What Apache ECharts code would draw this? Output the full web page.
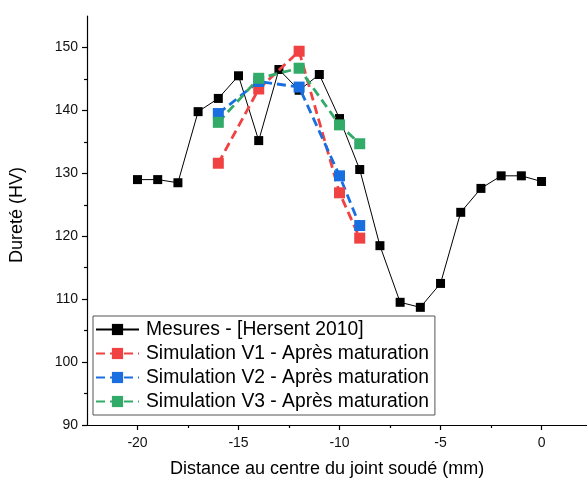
<!DOCTYPE html>
<html><head><meta charset="utf-8">
<script src="https://cdn.jsdelivr.net/npm/echarts@6/dist/echarts.min.js"></script>
<style>html,body{margin:0;padding:0;background:#fff}#c{width:587px;height:483px}</style>
</head><body><div id="c"></div>
<script>
const mesuresX = [-20,-19,-18,-17,-16,-15,-14,-13,-12,-11,-10,-9,-8,-7,-6,-5,-4,-3,-2,-1,0];
const mesuresY = [129.0,129.0,128.5,139.8,141.9,145.5,135.2,146.5,143.2,145.7,138.7,130.6,118.5,109.5,108.7,112.5,123.8,127.6,129.6,129.6,128.7];
const simX = [-16,-14,-12,-10,-9];
const v1Y = [131.6,143.4,149.4,126.9,119.7];
const v2Y = [139.5,144.6,143.7,129.6,121.7];
const v3Y = [138.1,145.1,146.7,137.7,134.7];
const xMajorTicks = [-20,-15,-10,-5,0];
const xMinorTicks = [-17.5,-12.5,-7.5,-2.5];
const yMajorTicks = [90,100,110,120,130,140,150];
const yMinorTicks = [95,105,115,125,135,145];
const seriesNames = ['Mesures - [Hersent 2010]','Simulation V1 - Après maturation','Simulation V2 - Après maturation','Simulation V3 - Après maturation'];
const xTitle = 'Distance au centre du joint soudé (mm)';
const yTitle = 'Dureté (HV)';

const FONT = 'Liberation Sans, Arial, sans-serif';
const pairs = (xs, ys) => xs.map((x, i) => [x, ys[i]]);
const chart = echarts.init(document.getElementById('c'), null, {renderer: 'canvas'});

const xBase = {type:'value', min:-22.5, max:2.25, position:'bottom', splitLine:{show:false}};
const yBase = {type:'value', min:90, max:155, position:'left', splitLine:{show:false}};

function simSeries(name, ys, color) {
  return {
    name, type:'line', data:pairs(simX, ys), symbol:'rect', symbolSize:11,
    itemStyle:{color}, lineStyle:{color, width:2.8, type:[9,5]}, z:3
  };
}

chart.setOption({
  animation:false,
  backgroundColor:'#fff',
  grid:{left:87, right:0, top:16, bottom:58, containLabel:false},
  xAxis:[
    Object.assign({}, xBase, {
      axisLine:{show:true, onZero:false, lineStyle:{color:'#000', width:1.2}},
      axisTick:{show:true, inside:false, length:5, customValues:xMajorTicks, lineStyle:{color:'#000', width:1.2}},
      axisLabel:{show:true, customValues:xMajorTicks, margin:11, fontSize:14, color:'#111', fontFamily:FONT}
    }),
    Object.assign({}, xBase, {
      axisLine:{show:false, onZero:false},
      axisTick:{show:true, inside:false, length:3, customValues:xMinorTicks, lineStyle:{color:'#000', width:1.2}},
      axisLabel:{show:false}
    })
  ],
  yAxis:[
    Object.assign({}, yBase, {
      axisLine:{show:true, onZero:false, lineStyle:{color:'#000', width:1.2}},
      axisTick:{show:true, inside:false, length:5, customValues:yMajorTicks, lineStyle:{color:'#000', width:1.2}},
      axisLabel:{show:true, customValues:yMajorTicks, margin:9, fontSize:14, color:'#111', fontFamily:FONT}
    }),
    Object.assign({}, yBase, {
      axisLine:{show:false, onZero:false},
      axisTick:{show:true, inside:false, length:3, customValues:yMinorTicks, lineStyle:{color:'#000', width:1.2}},
      axisLabel:{show:false}
    })
  ],
  legend:{
    orient:'vertical', left:93, top:316,
    padding:[4,6,4,2], itemGap:5, itemWidth:43, itemHeight:14,
    borderColor:'#555', borderWidth:1, backgroundColor:'#fff',
    textStyle:{fontFamily:FONT, fontSize:19.3, color:'#000', padding:[0,0,0,2], lineHeight:19},
    data:seriesNames
  },
  graphic:[
    {type:'text', top:460, left:170, style:{text:xTitle, font:'18px ' + FONT, fill:'#000'}},
    {type:'text', rotation:Math.PI/2, x:8, y:263, style:{text:yTitle, font:'18px ' + FONT, fill:'#000'}}
  ],
  series:[
    {name:seriesNames[0], type:'line', data:pairs(mesuresX, mesuresY), symbol:'rect', symbolSize:9,
     itemStyle:{color:'#000'}, lineStyle:{color:'#000', width:1}, z:2},
    simSeries(seriesNames[1], v1Y, '#F04242'),
    simSeries(seriesNames[2], v2Y, '#1A6FE0'),
    simSeries(seriesNames[3], v3Y, '#33AB68')
  ]
});
</script></body></html>
